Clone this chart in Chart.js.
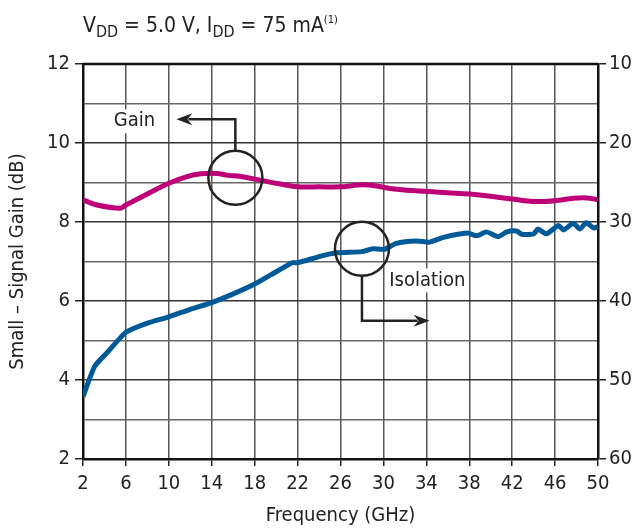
<!DOCTYPE html>
<html>
<head>
<meta charset="utf-8">
<script src="https://cdn.jsdelivr.net/npm/chart.js@4/dist/chart.umd.min.js"></script>
<style>
  html, body { margin: 0; padding: 0; background: #fff; }
  #wrap { width: 636px; height: 531px; }
</style>
</head>
<body>
<div id="wrap"><canvas id="graph1" width="636" height="531"></canvas></div>
<script>
const FONT = "'Liberation Sans Narrow', 'DejaVu Sans Condensed', 'Roboto Condensed', sans-serif";

// Small-signal gain (left axis, dB)
const gainFreq = [2, 3.3, 5.5, 6, 8, 10, 11.7, 13, 14.5, 15.5, 16.6, 18.5, 20.4, 22, 24, 26, 28, 29.4, 30.6, 33, 34.3, 36, 38, 40, 42, 44, 46, 47.7, 49, 50];
const gain = [8.56, 8.43, 8.35, 8.43, 8.71, 8.98, 9.15, 9.22, 9.23, 9.18, 9.16, 9.06, 8.96, 8.89, 8.89, 8.89, 8.94, 8.91, 8.85, 8.79, 8.77, 8.74, 8.71, 8.65, 8.58, 8.52, 8.54, 8.60, 8.61, 8.56];

// Isolation (right axis, dB, reversed)
const isoFreq = [2, 3.1, 4.2, 5.45, 6.07, 8, 10, 12, 14, 16, 18, 20, 21.5, 22, 24.1, 25.6, 28, 29, 30.1, 31.2, 33.1, 34.3, 35.6, 37.8, 38.7, 39.6, 40.7, 41.5, 42.4, 42.9, 44, 44.4, 45.2, 46.3, 46.8, 47.7, 48.3, 48.9, 49.6, 50];
const isolation = [52.1, 48.25, 46.6, 44.7, 43.9, 42.8, 42.0, 41.05, 40.2, 39.1, 37.85, 36.3, 35.15, 35.15, 34.35, 33.9, 33.75, 33.4, 33.45, 32.7, 32.4, 32.55, 31.95, 31.4, 31.75, 31.25, 31.85, 31.25, 31.15, 31.55, 31.5, 30.9, 31.5, 30.45, 31.0, 30.15, 30.9, 30.1, 30.75, 30.6];

// tick setup
const freqTicks = [2, 6, 10, 14, 18, 22, 26, 30, 34, 38, 42, 46, 50];
const gainTicks = [2, 4, 6, 8, 10, 12];
const isoTicks = [10, 20, 30, 40, 50, 60];

const toXY = (xs, ys) => xs.map((x, i) => ({ x: x, y: ys[i] }));

// title with subscripts, drawn on the canvas
const titlePlugin = {
    id: 'titleSub',
    afterDraw(chart) {
        const c = chart.ctx;
        const parts = [
            ['V', 0, 21], ['DD', 5, 16], [' = 5.0 V, I', 0, 21], ['DD', 5, 16], [' = 75 mA', 0, 21], ['(1)', -9, 11]
        ];
        let x = chart.chartArea.left;
        const base = 32;
        c.save();
        c.fillStyle = '#222';
        c.textBaseline = 'alphabetic';
        c.textAlign = 'left';
        parts.forEach(p => {
            c.font = p[2] + 'px ' + FONT;
            c.fillText(p[0], x, base + p[1]);
            x += c.measureText(p[0]).width;
        });
        c.restore();
    }
};

// circles + arrows pointing to each curve's axis
const callouts = {
    id: 'callouts',
    afterDatasetsDraw(chart) {
        const c = chart.ctx;
        const sx = chart.scales.x, sy = chart.scales.y, sy2 = chart.scales.y2;
        const r = 27;

        function arrowHead(tx, ty, dir) {
            c.beginPath();
            c.moveTo(tx, ty);
            c.lineTo(tx - dir * 16, ty - 6);
            c.lineTo(tx - dir * 11, ty);
            c.lineTo(tx - dir * 16, ty + 6);
            c.closePath();
            c.fill();
        }
        function label(txt, cx, cy) {
            c.font = '20px ' + FONT;
            const w = c.measureText(txt).width;
            c.fillStyle = '#fff';
            c.fillRect(cx - w / 2 - 3, cy - 12, w + 6, 24);
            c.fillStyle = '#222';
            c.textAlign = 'center';
            c.textBaseline = 'middle';
            c.fillText(txt, cx, cy);
        }

        c.save();
        c.strokeStyle = '#222';
        c.fillStyle = '#222';
        c.lineWidth = 2.5;

        // Gain
        const gx = sx.getPixelForValue(16.2), gy = sy.getPixelForValue(9.12);
        c.beginPath();
        c.arc(gx, gy, r, 0, Math.PI * 2);
        c.stroke();
        const gTop = sy.getPixelForValue(10.6), gEnd = sx.getPixelForValue(10.7);
        c.beginPath();
        c.moveTo(gx, gy - r);
        c.lineTo(gx, gTop);
        c.lineTo(gEnd + 12, gTop);
        c.stroke();
        arrowHead(gEnd, gTop, -1);
        label('Gain', sx.getPixelForValue(6.8), sy.getPixelForValue(10.55));

        // Isolation
        c.strokeStyle = '#222';
        c.fillStyle = '#222';
        const ix = sx.getPixelForValue(28.0), iy = sy2.getPixelForValue(33.4);
        c.beginPath();
        c.arc(ix, iy, r, 0, Math.PI * 2);
        c.stroke();
        const iBot = sy2.getPixelForValue(42.5), iEnd = sx.getPixelForValue(34.3);
        c.beginPath();
        c.moveTo(ix, iy + r);
        c.lineTo(ix, iBot);
        c.lineTo(iEnd - 12, iBot);
        c.stroke();
        arrowHead(iEnd, iBot, 1);
        label('Isolation', sx.getPixelForValue(34.1), sy2.getPixelForValue(37.4));

        c.restore();
    }
};

const ctx1 = document.getElementById('graph1').getContext('2d');
new Chart(ctx1, {
    type: 'line',
    data: {
        datasets: [{
            label: 'Gain',
            data: toXY(gainFreq, gain),
            yAxisID: 'y',
            borderColor: '#BE0078',
            borderWidth: 5,
            pointRadius: 0,
            tension: 0.3
        }, {
            label: 'Isolation',
            data: toXY(isoFreq, isolation),
            yAxisID: 'y2',
            borderColor: '#005A97',
            borderWidth: 5,
            pointRadius: 0,
            tension: 0.2
        }]
    },
    options: {
        responsive: false,
        animation: false,
        layout: { padding: { top: 64, left: 0, right: 0, bottom: 0 } },
        plugins: { legend: { display: false }, tooltip: { enabled: false } },
        scales: {
            x: {
                type: 'linear',
                min: 2, max: 50,
                afterBuildTicks: s => { s.ticks = freqTicks.map(v => ({ value: v })); },
                afterFit: s => { s.height = 72; },
                border: { color: '#111', width: 2.5 },
                grid: { color: '#555', lineWidth: 1.5, tickLength: 7, tickColor: '#222' },
                ticks: { color: '#222', font: { family: FONT, size: 20 }, padding: 6, maxRotation: 0 },
                title: { display: true, text: 'Frequency (GHz)', color: '#222', font: { family: FONT, size: 20 }, padding: { top: 3, bottom: 3 } }
            },
            y: {
                position: 'left',
                min: 2, max: 12,
                afterBuildTicks: s => { s.ticks = [2, 3, 4, 5, 6, 7, 8, 9, 10, 11, 12].map(v => ({ value: v })); },
                afterFit: s => { s.width = 83; },
                border: { color: '#111', width: 2.5 },
                grid: {
                    color: ctx => (ctx.tick && ctx.tick.value % 2 === 0) ? '#333' : '#666',
                    lineWidth: 1.5,
                    tickLength: 8,
                    tickColor: ctx => (ctx.tick && ctx.tick.value % 2 === 0) ? '#222' : 'rgba(0,0,0,0)'
                },
                ticks: {
                    color: '#222', font: { family: FONT, size: 20 }, padding: 5,
                    callback: v => gainTicks.includes(v) ? String(v) : ''
                },
                title: { display: true, text: 'Small – Signal Gain (dB)', color: '#222', font: { family: FONT, size: 20 }, padding: { top: 6, bottom: 0 } }
            },
            y2: {
                position: 'right',
                min: 10, max: 60,
                reverse: true,
                afterBuildTicks: s => { s.ticks = isoTicks.map(v => ({ value: v })); },
                afterFit: s => { s.width = 38; },
                border: { color: '#111', width: 2.5 },
                grid: { drawOnChartArea: false, tickLength: 8, tickColor: '#222', lineWidth: 1.5 },
                ticks: { color: '#222', font: { family: FONT, size: 20 }, padding: 3 }
            }
        }
    },
    plugins: [titlePlugin, callouts, {
        id: 'topBorder',
        afterDraw(chart) {
            const a = chart.chartArea, c = chart.ctx;
            c.save();
            c.strokeStyle = '#111';
            c.lineWidth = 2.5;
            c.beginPath();
            c.moveTo(a.left, a.top);
            c.lineTo(a.right, a.top);
            c.stroke();
            c.restore();
        }
    }]
});
</script>
</body>
</html>
